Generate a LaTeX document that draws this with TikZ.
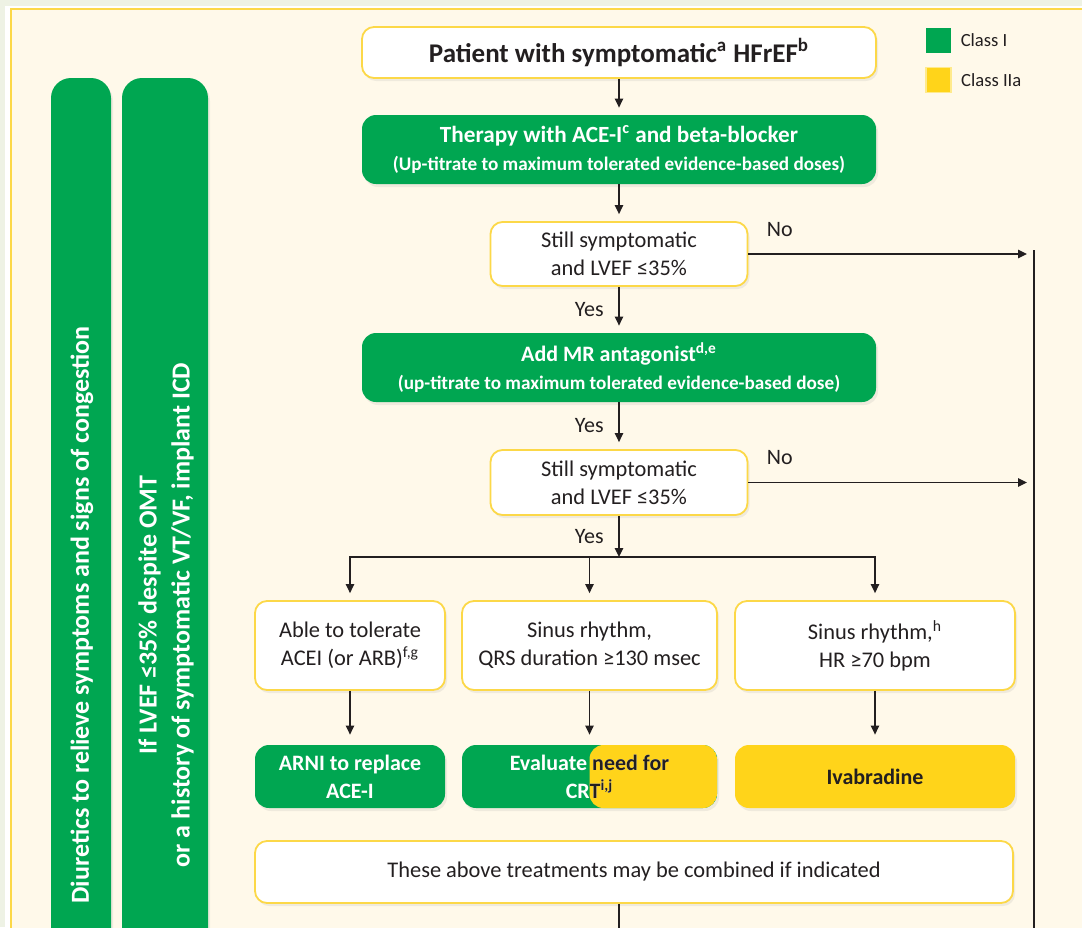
\documentclass[tikz,border=0pt]{standalone}
\usepackage{fontspec}
\setmainfont{Carlito}
\usepackage{tikz}
\usetikzlibrary{positioning,
                calc,
                arrows.meta,
                shadows}
\definecolor{escgreen}{HTML}{00A651}
\definecolor{escyellow}{HTML}{FFD41A}
\definecolor{boxborder}{HTML}{FCD848}
\definecolor{creambg}{HTML}{FFF9EA}
\definecolor{outerbg}{HTML}{EEF2E4}
\definecolor{inkdark}{HTML}{231F20}

\begin{document}
\begin{tikzpicture}[x=0.5pt,y=-0.5pt]

\tikzset{
boxshadow/.style={
drop shadow={opacity=0.12,shadow xshift=1pt,shadow yshift=-1.5pt}
},
whitebox/.style={
draw=boxborder,
line width=0.9pt,
fill=white,
rounded corners=6pt,
align=center,
text=inkdark,
font=\fontsize{11.2}{14}\selectfont,
boxshadow
},
greenbox/.style={
fill=escgreen,
rounded corners=7pt,
align=center,
text=white,
font=\bfseries\fontsize{11}{14}\selectfont,
boxshadow
},
yellowbox/.style={
greenbox,
fill=escyellow,
text=inkdark
},
bartext/.style={
rotate=90,
align=center,
text=white,
font=\bfseries\fontsize{13}{16.5}\selectfont
},
legendswatch/.style={
minimum size=12.5pt,
inner sep=0pt
},
legendtext/.style={
inner sep=1pt,
text=inkdark,
font=\fontsize{9.3}{11}\selectfont
},
flowarrow/.style={
-{Triangle[length=4.5pt,width=4.2pt]},
line width=0.7pt,
draw=inkdark,
shorten >=3.5pt
},
yeslabel/.style={
midway,
left=4pt,
text=inkdark,
font=\fontsize{11}{13}\selectfont
},
nolabel/.style={
pos=0.11,
above=5pt,
text=inkdark,
font=\fontsize{11}{13}\selectfont
}
}

\useasboundingbox (0,0) rectangle (1082,927);

%--------------------------------------------------
% FRAME
%--------------------------------------------------

\fill[outerbg] (0,0) rectangle (1082,927);
\fill[white] (5,6) rectangle (1082,927);
\filldraw[fill=creambg,draw=boxborder,line width=1pt]
(10.5,8.5) rectangle (1100,960);

%--------------------------------------------------
% LEGEND
%--------------------------------------------------

\node[legendswatch,fill=escgreen] (legI) at (938.5,40) {};
\node[legendtext,right=3.5pt of legI] (legItext) {Class I};

\node[legendswatch,fill=escyellow,draw=escyellow!50,line width=0.8pt]
(legIIa) at (938.5,80) {};
\node[legendtext,right=3.5pt of legIIa] (legIIatext) {Class IIa};

%--------------------------------------------------
% SIDE BARS
%--------------------------------------------------

\fill[escgreen,rounded corners=10pt,boxshadow]
(51,1000) -- (51,78) -- (111,78) -- (111,1000) -- cycle;
\node[bartext] (diuretics) at (82,615)
{Diuretics to relieve symptoms and signs of congestion};

\fill[escgreen,rounded corners=10pt,boxshadow]
(122,1000) -- (122,78) -- (208,78) -- (208,1000) -- cycle;
\node[bartext] (implanticd) at (166,615)
{If LVEF ≤35\% despite OMT\\or a history of symptomatic VT/VF, implant ICD};

%--------------------------------------------------
% MAIN PATHWAY
%--------------------------------------------------

\node[whitebox,minimum width=257pt,minimum height=25.5pt,
font=\bfseries\fontsize{13.5}{15}\selectfont] (patient) at (619,52.5)
{Patient with symptomatic\textsuperscript{a} HFrEF\textsuperscript{b}};

\node[greenbox,minimum width=257pt,minimum height=34.5pt,
font=\bfseries\fontsize{11.6}{14}\selectfont] (therapy)
at (619,149.5)
{Therapy with ACE-I\textsuperscript{c} and beta-blocker\\
\fontsize{9.6}{14}\selectfont
(Up-titrate to maximum tolerated evidence-based doses)};

\node[whitebox,minimum width=128.5pt,minimum height=32pt] (still1)
at (619,254)
{Still symptomatic\\and LVEF ≤35\%};

\node[greenbox,minimum width=257pt,minimum height=34.5pt] (mra)
at (619,367.5)
{Add MR antagonist\textsuperscript{d,e}\\
\fontsize{9.6}{14}\selectfont
(up-titrate to maximum tolerated evidence-based dose)};

\node[whitebox,minimum width=128.5pt,minimum height=32.5pt] (still2)
at (619,482.5)
{Still symptomatic\\and LVEF ≤35\%};

%--------------------------------------------------
% OPTIONS
%--------------------------------------------------

\node[whitebox,minimum width=95pt,minimum height=44.5pt] (tolerate)
at (350,645.5)
{Able to tolerate\\ACEI (or ARB)\textsuperscript{f,g}};

\node[whitebox,minimum width=127.5pt,minimum height=44.5pt] (qrs)
at (589.5,645.5)
{Sinus rhythm,\\QRS duration ≥130 msec};

\node[whitebox,minimum width=140pt,minimum height=44.5pt] (hr)
at (875,645.5)
{Sinus rhythm,\textsuperscript{h}\\HR ≥70 bpm};

\node[greenbox,minimum width=95pt,minimum height=31.5pt] (arni)
at (350,776.5)
{ARNI to replace\\ACE-I};

\node[greenbox,minimum width=127.5pt,minimum height=31.5pt,
path picture={\fill[escyellow] (path picture bounding box.north)
rectangle (path picture bounding box.south east);}] (crt)
at (589.5,776.5)
{Evaluate need for\\CRT\textsuperscript{i,j}};

\begin{scope}
\clip (crt.north) rectangle (crt.south east);
\node[align=center,text=inkdark,font=\bfseries\fontsize{11}{14}\selectfont]
(crtdark) at (crt.center)
{Evaluate need for\\CRT\textsuperscript{i,j}};
\end{scope}

\node[yellowbox,minimum width=140pt,minimum height=31.5pt] (ivabradine)
at (875,776.5)
{Ivabradine};

\node[whitebox,minimum width=379pt,minimum height=31pt] (combined)
at (634,872)
{These above treatments may be combined if indicated};

%--------------------------------------------------
% CONNECTORS
%--------------------------------------------------

\coordinate (railtop) at (1034,250);
\coordinate (railbot) at (1034,1000);
\coordinate (split) at (619,557);
\coordinate (exitpt) at (619,1000);

\draw[inkdark,line width=0.9pt] (railtop) -- (railbot);

\draw[flowarrow] (patient) -- (therapy);
\draw[flowarrow] (therapy) -- (still1);
\draw[flowarrow] (still1.east) -- node[nolabel] (no1) {No}
(still1.east -| railtop);
\draw[flowarrow] (still1) -- node[yeslabel] (yes1) {Yes} (mra);
\draw[flowarrow] (mra) -- node[yeslabel] (yes2) {Yes} (still2);
\draw[flowarrow] (still2.east) -- node[nolabel] (no2) {No}
(still2.east -| railtop);
\draw[flowarrow,shorten >=0pt] (still2) -- node[yeslabel] (yes3) {Yes}
(split);

\draw[flowarrow] (split) -| (tolerate);
\draw[flowarrow] (split) -| (qrs);
\draw[flowarrow] (split) -| (hr);

\draw[flowarrow,shorten >=5pt] (tolerate) -- (arni);
\draw[flowarrow,shorten >=5pt] (qrs) -- (crt);
\draw[flowarrow,shorten >=5pt] (hr) -- (ivabradine);

\draw[flowarrow] (combined.south -| exitpt) -- (exitpt);

\end{tikzpicture}
\end{document}
